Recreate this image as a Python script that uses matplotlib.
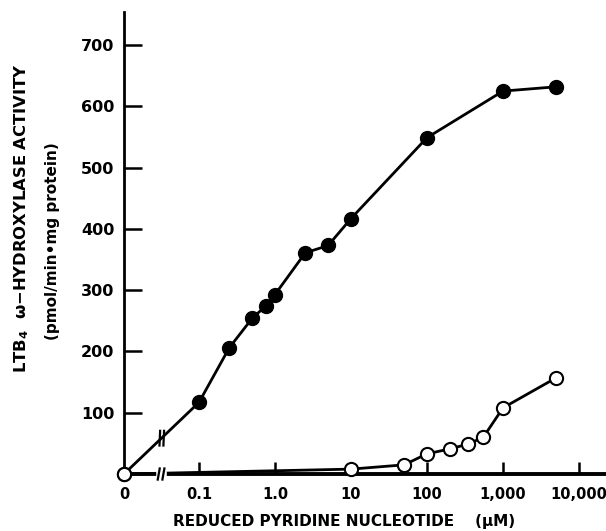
import numpy as np
import matplotlib
matplotlib.use("Agg")
import matplotlib.pyplot as plt

plt.rcParams['font.family'] = ['DejaVu Sans']
plt.rcParams['font.weight'] = 'bold'
plt.rcParams['mathtext.default'] = 'bf'

# NADPH (filled circles) and NADH (open circles), concentration in uM
nadph_conc = [0, 0.1, 0.25, 0.5, 0.75, 1.0, 2.5, 5, 10, 100, 1000, 5000]
nadph_act = [0, 117, 206, 254, 274, 293, 361, 373, 417, 549, 625, 632]

nadh_conc = [0, 10, 50, 100, 200, 350, 550, 1000, 5000]
nadh_act = [0, 8, 15, 33, 41, 49, 60, 108, 157]

tick_vals = [0, 0.1, 1, 10, 100, 1000, 10000]
tick_labels = ['0', '0.1', '1.0', '10', '100', '1,000', '10,000']
y_ticks = [100, 200, 300, 400, 500, 600, 700]

ZERO_POS = 0.0103  # where "0" sits on the log axis


def to_axis(vals):
    return [ZERO_POS if v == 0 else v for v in vals]


fig = plt.figure(figsize=(6.06, 5.31), dpi=100)
ax = fig.add_axes([0.2046, 0.1073, 0.7954, 0.870])

ax.set_xscale('log')
ax.set_xlim(ZERO_POS, 22650)
ax.set_ylim(0, 754)

ax.plot(to_axis(nadph_conc), nadph_act, '-o', color='black', lw=2.0,
        ms=10, mfc='black', mec='black', clip_on=False, zorder=3)
ax.plot(to_axis(nadh_conc), nadh_act, '-o', color='black', lw=2.0,
        ms=9.5, mfc='white', mec='black', mew=1.5, clip_on=False, zorder=4)

# axes look
for s in ['top', 'right']:
    ax.spines[s].set_visible(False)
ax.spines['left'].set_linewidth(2.0)
ax.spines['bottom'].set_linewidth(2.8)

ax.set_xticks(to_axis(tick_vals))
ax.set_xticklabels(tick_labels)
ax.xaxis.set_minor_locator(matplotlib.ticker.NullLocator())
ax.set_yticks(y_ticks)
ax.tick_params(axis='x', direction='in', length=9, width=1.8, pad=9, labelsize=10.5)
ax.tick_params(axis='y', direction='in', length=13, width=1.8, pad=7, labelsize=11.5)
ax.xaxis.get_major_ticks()[0].tick1line.set_visible(False)
for lbl in ax.get_xticklabels() + ax.get_yticklabels():
    lbl.set_fontweight('bold')

# axis break on x-axis
brk = np.sqrt(ZERO_POS * 0.1)
trans = ax.get_xaxis_transform()
ax.plot([brk * 0.93, brk * 1.07], [0, 0], color='white', lw=4, transform=trans,
        clip_on=False, zorder=5)
for f in [0.92, 1.06]:
    ax.plot([brk * f * 0.97, brk * f * 1.03], [-0.012, 0.012], color='black', lw=1.6,
            transform=trans, clip_on=False, zorder=6)

# break marks on the first segment of the filled series
y_brk = nadph_act[1] * (np.log10(brk) - np.log10(ZERO_POS)) / (np.log10(0.1) - np.log10(ZERO_POS))
for f in [0.95, 1.07]:
    ax.plot([brk * f * 0.99, brk * f * 1.01], [y_brk - 12, y_brk + 12], color='black',
            lw=1.6, zorder=6)

fig.text(0.035, 0.59, r'LTB$_4$  ω−HYDROXYLASE ACTIVITY', rotation=90,
         ha='center', va='center', fontsize=11.8, fontweight='bold')
fig.text(0.086, 0.545, '(pmol/min•mg protein)', rotation=90,
         ha='center', va='center', fontsize=11, fontweight='bold')
fig.text(0.568, 0.003, 'REDUCED PYRIDINE NUCLEOTIDE    (µM)', ha='center',
         va='bottom', fontsize=11, fontweight='bold')

fig.savefig('out.png', dpi=100)
